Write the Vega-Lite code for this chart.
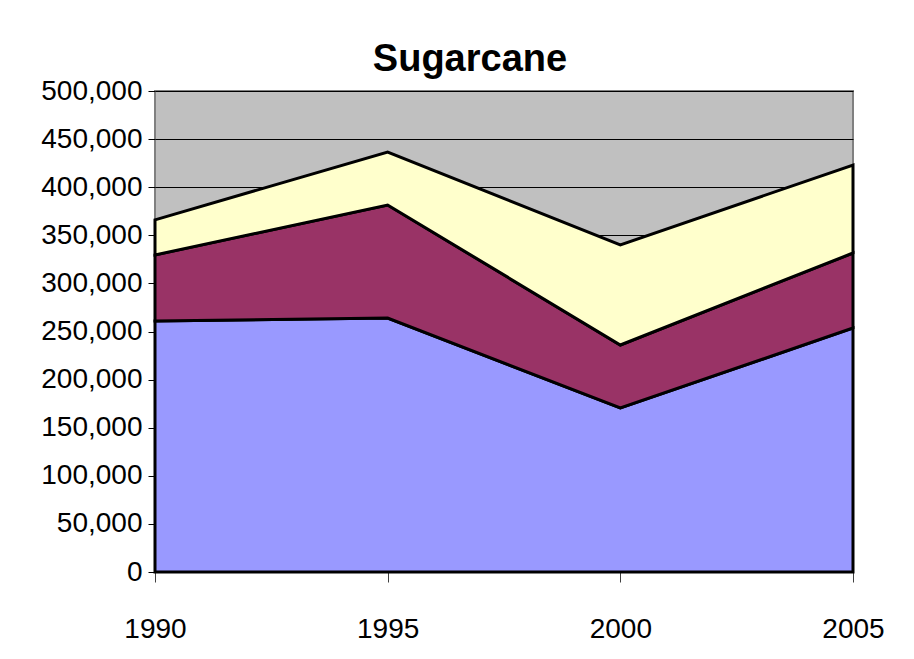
{
  "$schema": "https://vega.github.io/schema/vega-lite/v6.json",
  "autosize": "none",
  "width": 698,
  "height": 481,
  "padding": {"left": 155, "top": 91, "right": 61, "bottom": 87},
  "background": "white",
  "title": {
    "text": "Sugarcane",
    "font": "Liberation Sans",
    "fontSize": 38,
    "fontWeight": "bold",
    "color": "black",
    "anchor": "middle",
    "dx": -34,
    "offset": -2
  },
  "config": {
    "view": {"fill": "#C0C0C0", "stroke": "#808080", "strokeWidth": 2},
    "axis": {
      "labelFont": "Liberation Sans",
      "labelFontSize": 28,
      "labelColor": "black",
      "tickColor": "black",
      "gridColor": "black",
      "gridWidth": 1,
      "gridOpacity": 1,
      "domainColor": "#808080",
      "title": null
    }
  },
  "data": {
    "values": [
      {"year": 1990, "series": "Series 1", "k": 1, "value": 261000},
      {"year": 1995, "series": "Series 1", "k": 1, "value": 264000},
      {"year": 2000, "series": "Series 1", "k": 1, "value": 170500},
      {"year": 2005, "series": "Series 1", "k": 1, "value": 253600},
      {"year": 1990, "series": "Series 2", "k": 2, "value": 68600},
      {"year": 1995, "series": "Series 2", "k": 2, "value": 117500},
      {"year": 2000, "series": "Series 2", "k": 2, "value": 65500},
      {"year": 2005, "series": "Series 2", "k": 2, "value": 78000},
      {"year": 1990, "series": "Series 3", "k": 3, "value": 36400},
      {"year": 1995, "series": "Series 3", "k": 3, "value": 55100},
      {"year": 2000, "series": "Series 3", "k": 3, "value": 104000},
      {"year": 2005, "series": "Series 3", "k": 3, "value": 91500}
    ]
  },
  "mark": {"type": "area", "stroke": "black", "strokeWidth": 3, "strokeJoin": "miter", "opacity": 1},
  "encoding": {
    "x": {
      "field": "year",
      "type": "quantitative",
      "scale": {"domain": [1990, 2005], "nice": false, "zero": false},
      "axis": {
        "values": [1990, 1995, 2000, 2005],
        "format": "d",
        "grid": false,
        "tickSize": 10,
        "tickColor": "#404040",
        "labelPadding": 33,
        "labelFontSize": 28,
        "domain": false,
        "labelFlush": false
      }
    },
    "y": {
      "field": "value",
      "type": "quantitative",
      "stack": "zero",
      "scale": {"domain": [0, 500000], "nice": false},
      "axis": {
        "values": [0, 50000, 100000, 150000, 200000, 250000, 300000, 350000, 400000, 450000, 500000],
        "format": ",.0f",
        "grid": true,
        "tickSize": 7,
        "labelPadding": 6,
        "domain": false
      }
    },
    "color": {
      "field": "series",
      "type": "nominal",
      "scale": {"domain": ["Series 1", "Series 2", "Series 3"], "range": ["#9999FF", "#993366", "#FFFFCC"]},
      "legend": null
    },
    "order": {"field": "k", "type": "quantitative"}
  }
}
